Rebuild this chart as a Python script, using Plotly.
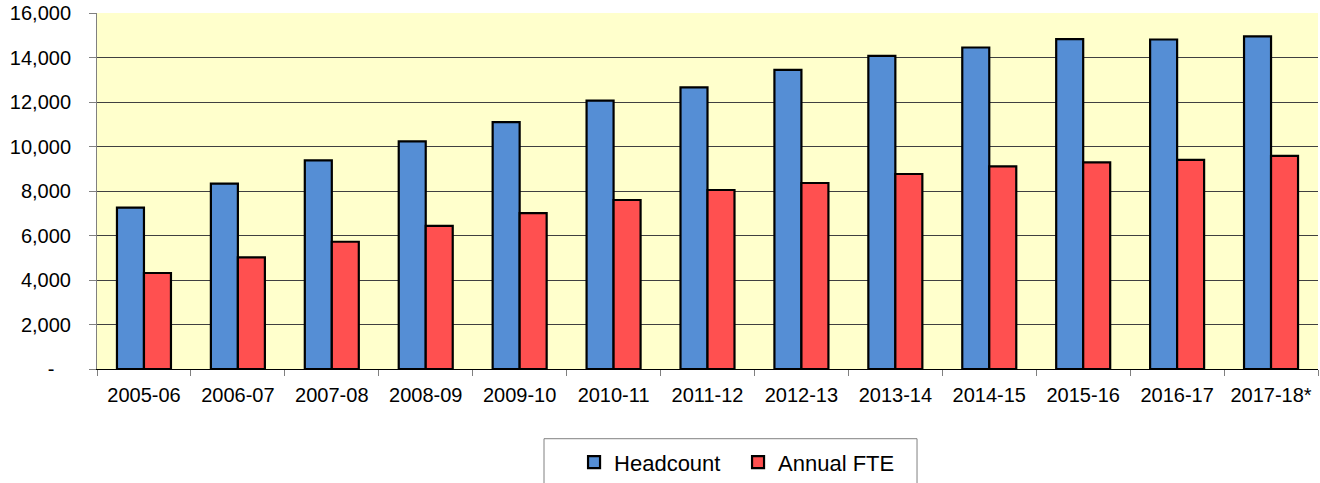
import plotly.graph_objects as go

years = ["2005-06", "2006-07", "2007-08", "2008-09", "2009-10", "2010-11", "2011-12",
         "2012-13", "2013-14", "2014-15", "2015-16", "2016-17", "2017-18*"]
headcount = [7250, 8330, 9375, 10230, 11100, 12060, 12660, 13440, 14070, 14450, 14830, 14810, 14950]
annual_fte = [4315, 5015, 5720, 6430, 7010, 7595, 8045, 8360, 8765, 9105, 9285, 9395, 9575]

y_ticks = [0, 2000, 4000, 6000, 8000, 10000, 12000, 14000, 16000]
y_labels = ["-&nbsp;&nbsp;&nbsp;"] + [f"{v:,}" for v in y_ticks[1:]]

fig = go.Figure()
fig.add_bar(x=years, y=headcount, name="Headcount",
            marker=dict(color="#558ED5", line=dict(color="black", width=2.2)))
fig.add_bar(x=years, y=annual_fte, name="Annual FTE",
            marker=dict(color="#FF5050", line=dict(color="black", width=2.2)))

# legend frame (Excel style box, wider than the items)
fig.add_shape(type="rect", xref="paper", yref="paper",
              x0=0.3661, x1=0.6716, y0=-0.34, y1=-0.1958,
              line=dict(color="#808080", width=1), fillcolor="white", layer="below")

fig.update_layout(
    width=1320, height=483,
    margin=dict(l=97, r=2, t=13, b=114, autoexpand=False),
    paper_bgcolor="white", plot_bgcolor="#FFFFCC",
    font=dict(family="Liberation Sans, Arial, sans-serif", size=20, color="black"),
    barmode="group", bargap=0.425, bargroupgap=0,
    showlegend=True,
    legend=dict(orientation="h", x=0.3907, xanchor="left", y=-0.203, yanchor="top",
                bgcolor="rgba(0,0,0,0)", borderwidth=0, font=dict(size=22),
                itemwidth=30, entrywidth=119, traceorder="normal"),
)
fig.update_xaxes(type="category", automargin=False, showline=True, linecolor="black", linewidth=1,
                 ticks="outside", tickson="boundaries", ticklen=6, tickcolor="#808080",
                 showgrid=False, ticklabelstandoff=8, ticklabeloverflow="allow")
fig.update_yaxes(automargin=False, range=[0, 16000], tickvals=y_ticks, ticktext=y_labels,
                 showgrid=True, gridcolor="#404040", gridwidth=1,
                 showline=True, linecolor="#808080", linewidth=1,
                 ticks="outside", ticklen=7, tickcolor="#808080",
                 ticklabelstandoff=14, zeroline=False, ticklabeloverflow="allow")

# drop the browser's default 8px body margin so the figure sits at the page corner
fig.write_html("out.html", config={"displayModeBar": False},
               post_script="document.body.style.margin='0px';")
